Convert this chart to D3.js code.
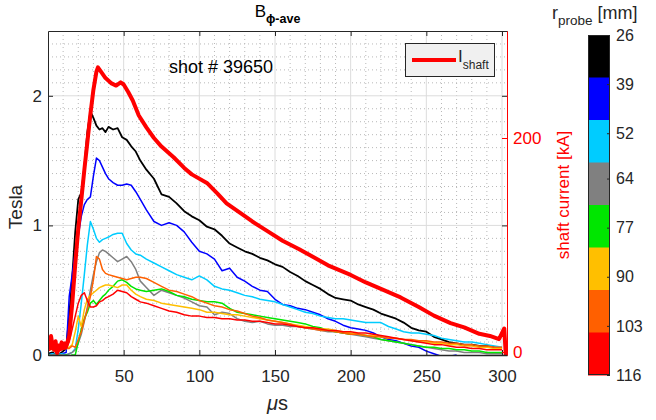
<!DOCTYPE html>
<html><head><meta charset="utf-8">
<script src="https://cdn.jsdelivr.net/npm/d3@7"></script>
<style>
body{margin:0;background:#fff;}
text{font-family:"Liberation Sans",Arial,Helvetica,sans-serif;}
</style></head>
<body><svg id="c" width="656" height="420"></svg>
<script>
// ---------- data ----------
const T = [0,3,6,9,12,14,16,18,20,22,24,26,28,30,32,34,36,38,40,43,46,49,52,55,58,61,
  65,70,75,80,85,90,95,100,105,110,115,120,125,130,135,140,145,150,155,160,165,170,175,180,
  185,190,195,200,205,210,215,220,225,230,235,240,245,250,255,260,265,270,275,280,285,290,295,300];

const probeRadii = [26,39,52,64,77,90,103,116];
const probeColors = ["#000000","#0000ff","#00ccff","#808080","#00e600","#ffbf00","#ff6000","#ff0000"];

const b26 = [0.01,0.02,0.0,0.02,0.05,0.3,0.6,0.95,1.2,1.25,1.45,1.72,1.88,1.83,1.77,1.74,1.75,1.72,1.76,1.74,1.75,1.68,1.66,1.61,1.57,1.5,
  1.43,1.36,1.24,1.22,1.17,1.11,1.07,1.04,0.99,0.97,0.92,0.86,0.83,0.8,0.78,0.75,0.73,0.7,0.68,0.64,0.61,0.57,0.54,0.51,
  0.47,0.44,0.43,0.42,0.39,0.37,0.35,0.32,0.3,0.28,0.25,0.21,0.19,0.18,0.14,0.12,0.1,0.09,0.08,0.08,0.07,0.07,0.06,0.05];
const b39 = [0.0,0.01,0.0,0.01,0.02,0.45,0.62,0.8,0.92,1.07,1.16,1.2,1.22,1.38,1.52,1.5,1.45,1.4,1.36,1.33,1.31,1.31,1.32,1.31,1.26,1.2,
  1.12,1.03,1.0,1.02,1.0,0.95,0.87,0.8,0.78,0.74,0.65,0.67,0.6,0.57,0.53,0.5,0.49,0.43,0.39,0.38,0.36,0.35,0.33,0.31,
  0.28,0.26,0.23,0.21,0.2,0.19,0.17,0.14,0.12,0.11,0.09,0.07,0.06,0.03,0.01,-0.01,-0.01,0.0,null,null,null,null,null,null];
const b52 = [0.0,0.01,0.0,0.01,0.0,0.01,0.02,0.05,0.2,0.4,0.62,0.85,1.03,0.97,0.9,0.87,0.89,0.9,0.91,0.93,0.94,0.94,0.86,0.81,0.78,0.77,
  0.74,0.71,0.68,0.65,0.62,0.6,0.58,0.61,0.58,0.53,0.51,0.5,0.48,0.46,0.45,0.43,0.42,0.41,0.39,0.37,0.35,0.33,0.32,0.3,
  0.29,0.28,0.28,0.27,0.26,0.25,0.25,0.25,0.22,0.2,0.18,0.17,0.17,0.16,0.15,0.13,0.12,0.11,0.1,0.1,0.09,0.08,0.07,0.06];
const b64 = [0.0,0.0,0.01,0.0,0.0,0.01,0.02,0.04,0.09,0.16,0.26,0.37,0.5,0.62,0.72,0.79,0.81,0.8,0.78,0.75,0.72,0.74,0.76,0.72,0.66,0.57,
  0.52,0.46,0.5,0.48,0.46,0.44,0.41,0.38,0.37,0.31,0.33,0.32,0.28,0.26,0.25,0.26,0.24,0.23,0.23,0.22,0.22,0.21,0.2,0.19,
  0.18,0.18,0.17,0.16,0.15,0.14,0.13,0.12,0.11,0.1,0.09,0.08,0.07,0.06,0.05,0.04,0.03,0.03,0.02,0.02,0.02,0.01,0.01,0.01];
const b77 = [0.0,-0.01,0.0,-0.01,0.0,-0.01,0.0,0.0,0.1,0.2,0.28,0.33,0.4,0.42,0.39,0.42,0.45,0.47,0.5,0.53,0.57,0.58,0.56,0.53,0.51,0.5,
  0.49,0.5,0.51,0.49,0.46,0.45,0.43,0.42,0.41,0.41,0.4,0.36,0.33,0.32,0.31,0.3,0.29,0.28,0.27,0.26,0.25,0.24,0.22,0.21,
  0.19,0.18,0.17,0.16,0.16,0.15,0.14,0.12,0.11,0.1,0.09,0.08,0.07,0.06,0.06,0.05,0.05,0.04,0.04,0.03,0.03,0.02,0.02,0.02];
const b90 = [0.05,0.04,0.06,0.05,0.05,0.06,0.08,0.18,0.3,0.22,0.35,0.43,0.46,0.48,0.5,0.52,0.53,0.54,0.54,0.53,0.52,0.54,0.54,0.5,0.47,0.45,
  0.43,0.42,0.4,0.39,0.38,0.37,0.36,0.35,0.33,0.33,0.32,0.31,0.31,0.3,0.29,0.28,0.27,0.26,0.25,0.24,0.23,0.22,0.21,0.2,
  0.2,0.19,0.18,0.17,0.16,0.15,0.15,0.14,0.13,0.13,0.12,0.11,0.1,0.1,0.09,0.09,0.08,0.08,0.07,0.07,0.06,0.06,0.05,0.05];
const b103 = [0.06,0.05,0.07,0.06,0.05,0.05,0.07,0.06,0.12,0.18,0.27,0.35,0.45,0.58,0.76,0.74,0.66,0.63,0.62,0.61,0.6,0.59,0.58,0.59,0.6,0.6,
  0.59,0.56,0.53,0.5,0.49,0.47,0.45,0.42,0.4,0.38,0.37,0.35,0.34,0.32,0.3,0.29,0.27,0.26,0.25,0.24,0.22,0.21,0.2,0.19,
  0.19,0.18,0.17,0.16,0.16,0.15,0.14,0.14,0.13,0.13,0.12,0.12,0.11,0.11,0.1,0.1,0.09,0.09,0.08,0.08,0.07,0.07,0.06,0.06];
const b116 = [0.03,0.05,0.02,0.04,0.05,0.1,0.2,0.3,0.4,0.46,0.48,0.42,0.37,0.37,0.38,0.41,0.42,0.44,0.45,0.47,0.5,0.49,0.48,0.45,0.43,0.41,
  0.4,0.38,0.36,0.34,0.33,0.31,0.3,0.3,0.29,0.29,0.28,0.28,0.27,0.27,0.26,0.26,0.25,0.24,0.24,0.23,0.22,0.21,0.21,0.2,
  0.19,0.19,0.18,0.18,0.17,0.17,0.16,0.15,0.14,0.13,0.12,0.11,0.1,0.09,0.08,0.08,0.07,0.06,0.06,0.05,0.05,0.04,0.04,0.04];
const probeSeries = [b26,b39,b52,b64,b77,b90,b103,b116];

const tShaft = [0,1,2,3,4,5,6,7,8,9,10,11,12,13,14,16,18,20,22,24,26,28,30,32,33,35,38,42,45,48,50,53,56,60,65,70,75,83,90,95,
  105,112,118,127,135,145,155,166,175,185,200,210,220,233,245,255,266,275,285,292,298,301.5,302.5];
const iShaft = [12,4,15,6,2,10,-1,6,3,9,4,8,5,10,15,45,82,115,142,170,196,222,245,262,266,262,256,251,249,252,250,243,235,221,210,200,192,182,172,166,
  158,148,139,130,122,113,104,96,89,81,72,65,59,51,42,34,27,23,17,15,12,22,-3];

const xTicks = [50,100,150,200,250,300];
const yTicks = [0,1,2];
const rTicks = [0,200];
const cbTicks = [26,39,52,64,77,90,103,116];

// ---------- layout ----------
const svg = d3.select("#c");
const L=48, R=507, TOP=31, BOT=355;
const x = d3.scaleLinear().domain([0,303.3]).range([L,R]);
const yL = d3.scaleLinear().domain([0,2.5]).range([BOT,TOP]);
const yR = d3.scaleLinear().domain([-2.8,300]).range([BOT,TOP]);
const axCol = "#262626";
const fmt = d3.format("~g");

// grid
const g = svg.append("g");
const minorX = d3.range(10,301,10).filter(v=>v%50!==0);
const minorY = d3.range(1,25).map(v=>v/10).filter(v=>Math.abs(v-1)>1e-6&&Math.abs(v-2)>1e-6);
g.selectAll(".mx").data(minorX).join("line").attr("x1",d=>x(d)).attr("x2",d=>x(d)).attr("y1",TOP).attr("y2",BOT)
  .attr("stroke","#b8b8b8").attr("stroke-width",1).attr("stroke-dasharray","1,3");
g.selectAll(".my").data(minorY).join("line").attr("y1",d=>yL(d)).attr("y2",d=>yL(d)).attr("x1",L).attr("x2",R)
  .attr("stroke","#b8b8b8").attr("stroke-width",1).attr("stroke-dasharray","1,3");
g.selectAll(".gx").data(xTicks).join("line").attr("x1",d=>x(d)).attr("x2",d=>x(d)).attr("y1",TOP).attr("y2",BOT)
  .attr("stroke","#dcdcdc").attr("stroke-width",1);
g.selectAll(".gy").data([1,2]).join("line").attr("y1",d=>yL(d)).attr("y2",d=>yL(d)).attr("x1",L).attr("x2",R)
  .attr("stroke","#dcdcdc").attr("stroke-width",1);

// clip
svg.append("clipPath").attr("id","clip").append("rect").attr("x",L).attr("y",TOP).attr("width",R-L).attr("height",BOT-TOP);
const plot = svg.append("g").attr("clip-path","url(#clip)");

const lineL = d3.line().defined(d=>d[1]!==null).x(d=>x(d[0])).y(d=>yL(d[1]));
probeSeries.forEach((s,i)=>{
  plot.append("path").datum(T.map((t,j)=>[t,s[j]])).attr("d",lineL).attr("fill","none")
    .attr("stroke",probeColors[i]).attr("stroke-width",i===0?1.8:1.5).attr("stroke-linejoin","round");
});
const lineR = d3.line().x(d=>x(d[0])).y(d=>yR(d[1]));
plot.append("path").datum(tShaft.map((t,j)=>[t,iShaft[j]])).attr("d",lineR).attr("fill","none")
  .attr("stroke","#ff0000").attr("stroke-width",4).attr("stroke-linejoin","round");

// axes
const fs = "17px";
const ax = svg.append("g").attr("transform",`translate(0,${BOT})`)
  .call(d3.axisBottom(x).tickValues(xTicks).tickFormat(fmt).tickSizeInner(-5).tickSizeOuter(0).tickPadding(15));
const ay = svg.append("g").attr("transform",`translate(${L},0)`)
  .call(d3.axisLeft(yL).tickValues(yTicks).tickFormat(fmt).tickSizeInner(-5).tickSizeOuter(0).tickPadding(6));
const atop = svg.append("g").attr("transform",`translate(0,${TOP})`)
  .call(d3.axisTop(x).tickValues(xTicks).tickSizeInner(-5).tickSizeOuter(0).tickFormat(""));
const ayr2 = svg.append("g").attr("transform",`translate(${R},0)`)
  .call(d3.axisRight(yL).tickValues([1,2]).tickSizeInner(-5).tickSizeOuter(0).tickFormat(""));
const ar = svg.append("g").attr("transform",`translate(${R},0)`)
  .call(d3.axisRight(yR).tickValues(rTicks).tickFormat(fmt).tickSizeInner(-5).tickSizeOuter(0).tickPadding(6));
[ax,ay,atop,ayr2].forEach(a=>{
  a.selectAll("path,line").attr("stroke",axCol);
  a.selectAll("text").attr("fill",axCol).attr("font-size",fs).attr("font-family",null);
});
ar.selectAll("path,line").attr("stroke","#ff0000");
ar.select("path").attr("stroke-width",1.2);
ar.selectAll("text").attr("fill","#ff0000").attr("font-size",fs).attr("font-family",null);
svg.selectAll(".domain").attr("stroke-width",1);
ax.select(".domain").attr("stroke-width",1.3);

// labels
svg.append("text").attr("x",(L+R)/2).attr("y",410).attr("text-anchor","middle").attr("font-size","20px").attr("fill",axCol)
  .html('<tspan font-style="italic">μ</tspan>s');
svg.append("text").attr("transform","translate(22,207) rotate(-90)").attr("text-anchor","middle")
  .attr("font-size","19px").attr("fill",axCol).text("Tesla");
svg.append("text").attr("transform","translate(569,195) rotate(-90)").attr("text-anchor","middle")
  .attr("font-size","17px").attr("fill","#ff0000").text("shaft current [kA]");
const title = svg.append("text").attr("x",(L+R)/2).attr("y",17).attr("text-anchor","middle").attr("fill","#000").attr("font-size","17px");
title.append("tspan").attr("font-size","17px").text("B");
title.append("tspan").attr("dy",6).attr("font-size","12.5px").attr("font-weight","bold").text("ϕ-ave");
svg.append("text").attr("x",169).attr("y",73).attr("font-size","18px").attr("fill","#000").text("shot # 39650");

// legend
svg.append("rect").attr("x",405.5).attr("y",43.5).attr("width",89).attr("height",33).attr("fill","#f0f0f0").attr("stroke",axCol).attr("stroke-width",1);
svg.append("line").attr("x1",412).attr("x2",456).attr("y1",60).attr("y2",60).attr("stroke","#ff0000").attr("stroke-width",4);
const lt = svg.append("text").attr("x",458).attr("y",62).attr("fill",axCol).attr("font-size","17px");
lt.append("tspan").attr("font-size","17px").text("I");
lt.append("tspan").attr("dy",7).attr("font-size","12px").text("shaft");

// colorbar
const cbX=588, cbW=22;
const cb = d3.scaleLinear().domain([26,116]).range([35,375]);
const band = (375-35)/probeColors.length;
svg.selectAll(".cb").data(probeColors).join("rect").attr("x",cbX).attr("width",cbW)
  .attr("y",(d,i)=>35+i*band).attr("height",band+0.5).attr("fill",d=>d);
svg.append("rect").attr("x",cbX+0.5).attr("y",35.5).attr("width",cbW-1).attr("height",339).attr("fill","none").attr("stroke",axCol);
const acb = svg.append("g").attr("transform",`translate(${cbX+cbW},0)`)
  .call(d3.axisRight(cb).tickValues(cbTicks).tickFormat(fmt).tickSizeInner(-3).tickSizeOuter(0).tickPadding(6));
acb.select(".domain").remove();
acb.selectAll("line").attr("stroke",axCol);
acb.selectAll("text").attr("fill",axCol).attr("font-size","16px").attr("font-family",null);
const ct = svg.append("text").attr("x",552).attr("y",19).attr("fill",axCol).attr("font-size","18px");
ct.append("tspan").attr("font-size","18px").text("r");
ct.append("tspan").attr("dy",6).attr("font-size","13.5px").text("probe");
ct.append("tspan").attr("dy",-6).attr("font-size","18px").text(" [mm]");
</script></body></html>
